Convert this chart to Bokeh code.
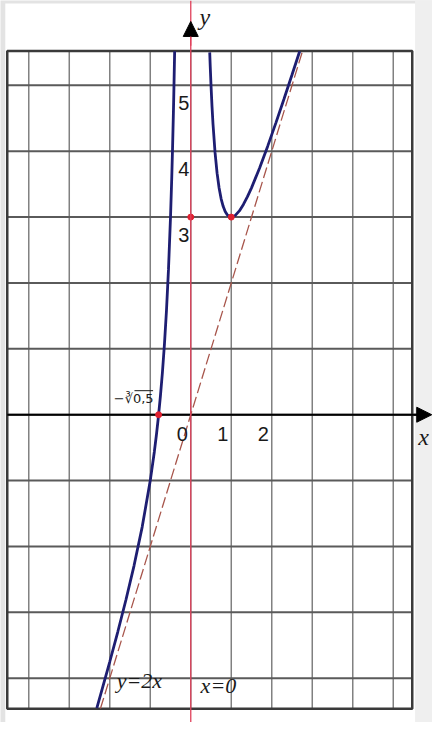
from bokeh.plotting import figure
from bokeh.models import Range1d, Span, Arrow, NormalHead
from bokeh.core.properties import value
from bokeh.embed import file_html
from bokeh.resources import INLINE

# ---- data ----
curve_left_x = [-2.32, -2.2, -2.0, -1.8, -1.6, -1.4, -1.2, -1.0, -0.9, -0.85, -0.8, -0.75,
                -0.7, -0.65, -0.6, -0.55, -0.5, -0.47, -0.45, -0.43, -0.42, -0.398]
curve_left_y = [-4.454, -4.193, -3.75, -3.291, -2.809, -2.290, -1.706, -1.0, -0.565, -0.316,
                -0.038, 0.278, 0.641, 1.067, 1.578, 2.206, 3.0, 3.587, 4.038, 4.548, 4.829, 5.517]
curve_right_x = [0.468, 0.48, 0.5, 0.525, 0.55, 0.6, 0.65, 0.7, 0.75, 0.8, 0.85, 0.9, 0.95,
                 1.0, 1.05, 1.1, 1.2, 1.3, 1.4, 1.5, 1.7, 1.9, 2.1, 2.3, 2.5, 2.69]
curve_right_y = [5.501, 5.300, 5.0, 4.678, 4.406, 3.978, 3.667, 3.441, 3.278, 3.163, 3.084,
                 3.035, 3.008, 3.0, 3.007, 3.026, 3.094, 3.192, 3.310, 3.444, 3.746, 4.077,
                 4.427, 4.789, 5.16, 5.518]
asym_x = [-2.23, 2.76]          # y = 2x
asym_y = [-4.46, 5.52]
dots_x = [0, 1, -0.794]
dots_y = [3, 3, 0]
grid_x = [-4, -3, -2, -1, 0, 1, 2, 3, 4, 5]
grid_y = [-4, -3, -2, -1, 0, 1, 2, 3, 4, 5]
y_tick_vals = [5, 4, 3]
y_tick_labels = ["5", "4", "3"]
x_tick_vals = [0, 1, 2]
x_tick_labels = ["0", "1", "2"]

# ---- layout ----
BOX_L, BOX_R, BOX_B, BOX_T = -4.531, 5.469, -4.465, 5.52

p = figure(width=432, height=722, output_backend="svg", toolbar_location=None,
           x_range=Range1d(-4.698, 5.969), y_range=Range1d(-4.672, 6.288),
           x_axis_location=None, y_axis_location=None, min_border=0)
p.grid.visible = False
p.outline_line_color = None
p.background_fill_color = "#e3e3e3"
p.border_fill_color = "#e3e3e3"

# white panel and light right strip
p.quad(left=[5.54], right=[6.2], bottom=[-5.0], top=[6.5], fill_color="#efefef", line_color=None)
p.quad(left=[-4.58], right=[5.54], bottom=[-5.0], top=[6.244], fill_color="white", line_color=None)

# grid inside the box
p.segment(x0=grid_x, y0=[BOX_B] * len(grid_x), x1=grid_x, y1=[BOX_T] * len(grid_x),
          line_color="#808080", line_width=1.5)
p.segment(x0=[BOX_L] * len(grid_y), y0=grid_y, x1=[BOX_R] * len(grid_y), y1=grid_y,
          line_color="#5a5a5a", line_width=2)
# box
p.quad(left=[BOX_L], right=[BOX_R], bottom=[BOX_B], top=[BOX_T], fill_color=None,
       line_color="#3a3a3a", line_width=2.5)

# x axis
p.segment(x0=[BOX_L], y0=[0], x1=[5.7], y1=[0], line_color="black", line_width=2)
p.add_layout(Arrow(end=NormalHead(size=15, fill_color="black", line_color="black"),
                   x_start=5.5, y_start=0, x_end=5.95, y_end=0,
                   line_color="black", line_width=2))
# y axis (x = 0)
p.add_layout(Span(location=0, dimension="height", line_color="#e0405a", line_width=1.3))
p.add_layout(Arrow(end=NormalHead(size=15, fill_color="black", line_color="black"),
                   x_start=0, y_start=5.6, x_end=0, y_end=5.97,
                   line_color="#e0405a", line_width=1.3))

# asymptote y = 2x
p.line(asym_x, asym_y, line_color="#a8564c", line_width=1.3, line_dash="11 4")

# curve
p.line(curve_left_x, curve_left_y, line_color="#1e1e72", line_width=2.8)
p.line(curve_right_x, curve_right_y, line_color="#1e1e72", line_width=2.8)

# points
p.scatter(dots_x, dots_y, size=6, fill_color="#e02030", line_color="#e02030")

# tick labels
num_font = value("Liberation Sans")
p.text(x=[-0.174] * len(y_tick_vals), y=[v - 0.27 for v in y_tick_vals], text=y_tick_labels,
       text_font=num_font, text_font_size="20px", text_align="center",
       text_baseline="middle", text_color="#1a1a1a")
p.text(x=[v - 0.21 for v in x_tick_vals], y=[-0.30] * len(x_tick_vals), text=x_tick_labels,
       text_font=num_font, text_font_size="20px", text_align="center",
       text_baseline="middle", text_color="#1a1a1a")

# root label  -∛0,5  with overline over the radicand
ROOT_X, ROOT_Y = -1.41, 0.24
p.text(x=[ROOT_X], y=[ROOT_Y], text=["\u2212\u221b0,5"], text_font=value("DejaVu Sans"),
       text_font_size="13px", text_align="center", text_baseline="middle",
       text_color="#1a1a1a")
p.segment(x0=[ROOT_X + 0.02], y0=[ROOT_Y + 0.125], x1=[ROOT_X + 0.48], y1=[ROOT_Y + 0.125],
          line_color="#1a1a1a", line_width=1)

serif = value("Liberation Serif")
p.text(x=[-1.27], y=[-4.04], text=["y=2x"], text_font=serif, text_font_style="italic",
       text_font_size="22px", text_align="center", text_baseline="middle", text_color="#1a1a1a")
p.text(x=[0.683], y=[-4.11], text=["x=0"], text_font=serif, text_font_style="italic",
       text_font_size="22px", text_align="center", text_baseline="middle", text_color="#1a1a1a")
p.text(x=[0.35], y=[6.04], text=["y"], text_font=serif, text_font_style="italic",
       text_font_size="24px", text_align="center", text_baseline="middle", text_color="#1a1a1a")
p.text(x=[5.75], y=[-0.34], text=["x"], text_font=serif, text_font_style="italic",
       text_font_size="24px", text_align="center", text_baseline="middle", text_color="#1a1a1a")

open("out.html", "w").write(file_html(p, INLINE))
